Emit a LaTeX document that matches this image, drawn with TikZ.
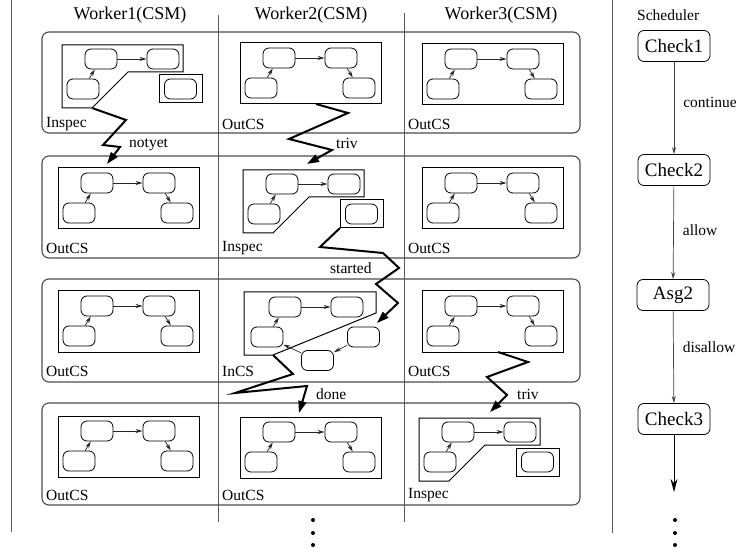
\documentclass[tikz,border=0pt]{standalone}
\usepackage{fontspec}
\setmainfont{Liberation Serif}
\usetikzlibrary{arrows.meta}
\tikzset{
  frm/.style={draw=black, line width=1pt},
  rowbox/.style={draw=black!70, line width=1.1pt, rounded corners=7pt},
  colline/.style={draw=black!65, line width=1pt},
  st/.style={draw, line width=0.8pt, rounded corners=6pt, minimum width=32pt, minimum height=20pt, inner sep=0pt},
  tr/.style={draw=black!85, line width=0.7pt, -{Stealth[length=7pt,width=4pt]}},
  bolt/.style={line width=2pt, line join=miter, -{Triangle[length=12pt,width=8pt]}},
  sch/.style={draw, line width=0.8pt, rounded corners=6pt, minimum width=72pt, minimum height=31pt, font=\fontsize{19}{22}\selectfont},
  sarr/.style={draw=black!75, line width=0.7pt, -{Stealth[length=7pt,width=4pt]}},
  hd/.style={font=\fontsize{18}{21}\selectfont, inner sep=0pt},
  lbl/.style={font=\fontsize{15.5}{18}\selectfont, inner sep=0pt},
}
\newcommand{\outcs}[3]% name, x, y of frame corner
{\begin{scope}[shift={(#2,#3)}]
  \draw[frm] (0,0) rectangle (141,61);
  \node[st] (#1a) at (39,15) {};
  \node[st] (#1b) at (101,15) {};
  \node[st] (#1c) at (21,45) {};
  \node[st] (#1d) at (119,45) {};
  \draw[tr] (#1c) -- (#1a);
  \draw[tr] (#1a) -- (#1b);
  \draw[tr] (#1b) -- (#1d);
  \coordinate (#1out) at (76,61);
\end{scope}
}
\newcommand{\inspec}[3]% name, x, y of frame corner
{\begin{scope}[shift={(#2,#3)}]
  \draw[frm] (0,0) -- (121,0) -- (121,27) -- (66,27) -- (30,63) -- (0,63) -- cycle;
  \draw[frm] (97,30) rectangle (140,58);
  \node[st] (#1a) at (39,14) {};
  \node[st] (#1b) at (101,14) {};
  \node[st] (#1c) at (21,44) {};
  \node[st] (#1d) at (118.5,44) {};
  \draw[tr] (#1c) -- (#1a);
  \draw[tr] (#1a) -- (#1b);
  \coordinate (#1dg) at (30,63);
  \coordinate (#1bx) at (97,58);
\end{scope}
}
\newcommand{\incs}[3]% name, x, y of frame corner
{\begin{scope}[shift={(#2,#3)}]
  \draw[frm] (0,0) -- (132,0) -- (132,21) -- (29,63) -- (0,63) -- cycle;
  \node[st] (#1a) at (41,15) {};
  \node[st] (#1b) at (103,15) {};
  \node[st] (#1c) at (23,45) {};
  \node[st] (#1d) at (119.5,45) {};
  \node[st] (#1e) at (73.5,68.5) {};
  \draw[tr] (#1c) -- (#1a);
  \draw[tr] (#1a) -- (#1b);
  \draw[tr] (#1d) -- (#1e);
  \draw[tr] (#1e) -- (#1c);
  \coordinate (#1dg) at (29,63);
\end{scope}
}

\begin{document}
\begin{tikzpicture}[x=1pt,y=-1pt]
  \useasboundingbox (0,0) rectangle (736,553);
  % separators
  \draw[colline] (11,0) -- (11,532);
  \draw[colline] (218,15) -- (218,522);
  \draw[colline] (404,13) -- (404,522);
  \draw[colline] (612,0) -- (612,533);
  % titles
  \node[hd] (w1) at (130,15) {Worker1(CSM)};
  \node[hd] (w2) at (311,15) {Worker2(CSM)};
  \node[hd] (w3) at (501,15) {Worker3(CSM)};
  \node[lbl, anchor=west] (sc) at (637,15) {Scheduler};
  % rows
  \draw[rowbox] (42,32) rectangle (580,133);
  \draw[rowbox] (42,156) rectangle (580,258);
  \draw[rowbox] (42,279) rectangle (580,382);
  \draw[rowbox] (42,403) rectangle (580,505);
  % row 1
  \inspec{r1w1}{62}{45}
  \outcs{r1w2}{240}{43}
  \outcs{r1w3}{422}{44}
  \node[lbl, anchor=west] (s11) at (46,124) {Inspec};
  \node[lbl, anchor=west] (s12) at (222,124) {OutCS};
  \node[lbl, anchor=west] (s13) at (408,124) {OutCS};
  % row 2
  \outcs{r2w1}{58}{168}
  \inspec{r2w2}{243}{170}
  \outcs{r2w3}{422}{168}
  \node[lbl, anchor=west] (s21) at (46,248) {OutCS};
  \node[lbl, anchor=west] (s22) at (222,248) {Inspec};
  \node[lbl, anchor=west] (s23) at (408,248) {OutCS};
  % row 3
  \outcs{r3w1}{58}{291}
  \incs{r3w2}{244}{292}
  \outcs{r3w3}{422}{291}
  \node[lbl, anchor=west] (s31) at (46,371) {OutCS};
  \node[lbl, anchor=west] (s32) at (222,371) {InCS};
  \node[lbl, anchor=west] (s33) at (408,371) {OutCS};
  % row 4
  \outcs{r4w1}{58}{416}
  \outcs{r4w2}{240}{417}
  \inspec{r4w3}{419}{418}
  \node[lbl, anchor=west] (s41) at (46,495) {OutCS};
  \node[lbl, anchor=west] (s42) at (222,495) {OutCS};
  \node[lbl, anchor=west] (s43) at (408,495) {Inspec};
  % transitions
  \coordinate (t1) at (107,164);
  \coordinate (t2) at (307,164);
  \coordinate (t3) at (377,323);
  \coordinate (t4) at (299,413);
  \coordinate (t5) at (490,412);
  \draw[bolt] (r1w1dg) -- (126,120) -- (103,145) -- (120,147) -- (t1);
  \draw[bolt] (r1w2out) -- (348,113) -- (289,139) -- (332,150) -- (t2);
  \draw[bolt] (r2w2bx) -- (320,247) -- (383,253) -- (399,268) -- (376,284) -- (398,303) -- (t3);
  \draw[bolt] (r3w2dg) -- (293,374) -- (235,393) -- (307,386) -- (t4);
  \draw[bolt] (r3w3out) -- (528,362) -- (487,377) -- (507,395) -- (t5);
  \node[lbl, anchor=west] (notyet) at (129,145) {notyet};
  \node[lbl, anchor=west] (triv1) at (336,143) {triv};
  \node[lbl, anchor=west] (started) at (330,268) {started};
  \node[lbl, anchor=west] (done) at (316,394) {done};
  \node[lbl, anchor=west] (triv2) at (517,394) {triv};
  \fill (313,520) circle (2);
  \fill (313,533) circle (2);
  \fill (313,545) circle (2);
  % scheduler
  \node[sch] (chk1) at (674,46) {Check1};
  \node[sch] (chk2) at (674,170) {Check2};
  \node[sch] (asg2) at (673,295) {Asg2};
  \node[sch] (chk3) at (674,419) {Check3};
  \coordinate (sch-end) at (674,492);
  \draw[sarr] (chk1) -- node[lbl, pos=0.44, anchor=west, xshift=9pt] {continue} (chk2);
  \draw[sarr] (chk2) -- node[lbl, pos=0.48, anchor=west, xshift=9pt] {allow} (asg2);
  \draw[sarr] (asg2) -- node[lbl, pos=0.39, anchor=west, xshift=9pt] {disallow} (chk3);
  \draw[line width=0.9pt, -{Stealth[length=13pt,width=7pt]}] (chk3) -- (sch-end);
  \fill (675,520) circle (2);
  \fill (675,533) circle (2);
  \fill (675,545) circle (2);
\end{tikzpicture}
\end{document}
